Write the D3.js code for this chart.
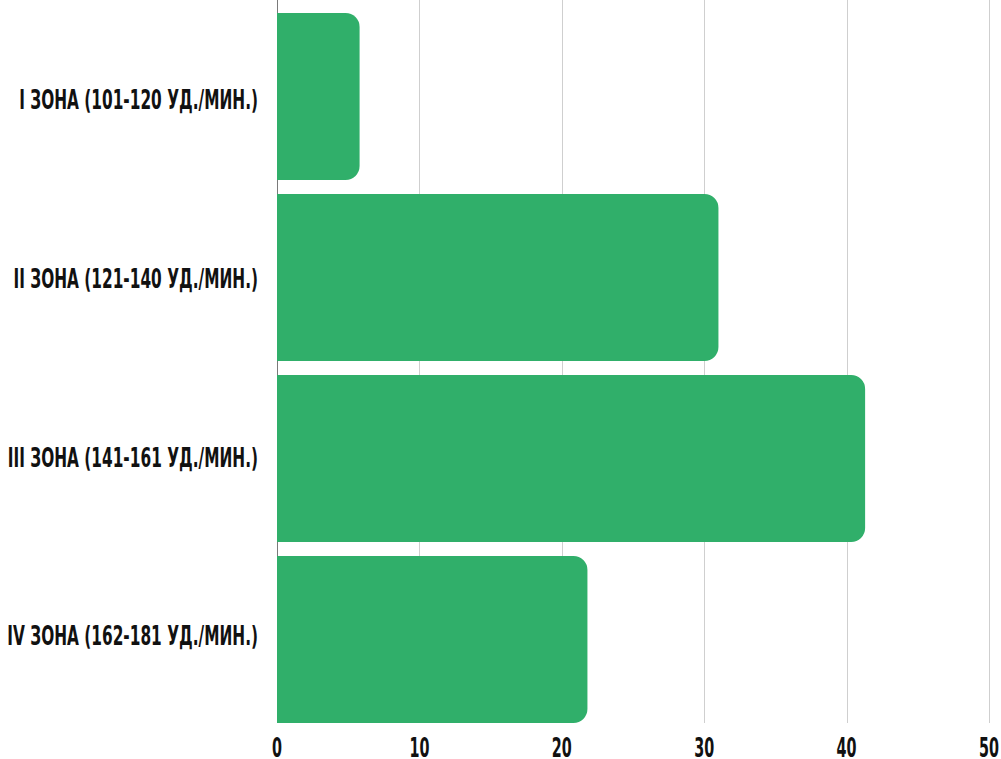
<!DOCTYPE html>
<html><head><meta charset="utf-8">
<script src="https://cdn.jsdelivr.net/npm/d3@7"></script>
<style>body{margin:0;background:#fff;overflow:hidden}</style>
</head><body>
<svg id="chart" width="1001" height="759"></svg>
<script>
const categories = [
  "I ЗОНА (101-120 УД./МИН.)",
  "II ЗОНА (121-140 УД./МИН.)",
  "III ЗОНА (141-161 УД./МИН.)",
  "IV ЗОНА (162-181 УД./МИН.)"
];
const values = [5.8, 31.0, 41.3, 21.8];
const tickValues = [0, 10, 20, 30, 40, 50];

const FONT = "'Liberation Sans Narrow','DejaVu Sans Condensed','Arial Narrow',sans-serif";
const svg = d3.select("#chart");

const x = d3.scaleLinear().domain([0, 50]).range([277, 989]);
const y = d3.scaleBand().domain(categories).range([13, 723]).paddingInner(0.0773).paddingOuter(0);
const yLabel = d3.scaleBand().domain(categories).range([10.7, 725.3]).padding(0);

// gridlines
svg.append("g").selectAll("line").data(tickValues.filter(d => d > 0)).join("line")
  .attr("x1", d => Math.round(x(d)) + 0.5).attr("x2", d => Math.round(x(d)) + 0.5)
  .attr("y1", 0).attr("y2", 723)
  .attr("stroke", "#cfcfcf").attr("stroke-width", 1);

// axis line
svg.append("line")
  .attr("x1", x(0) + 0.5).attr("x2", x(0) + 0.5).attr("y1", 0).attr("y2", 723)
  .attr("stroke", "#7a7a7a").attr("stroke-width", 1);

// bars with rounded right corners
const r = 14;
function barPath(x0, x1, y0, h) {
  const rr = Math.min(r, (x1 - x0), h / 2);
  return `M${x0},${y0}H${x1 - rr}A${rr},${rr} 0 0 1 ${x1},${y0 + rr}V${y0 + h - rr}A${rr},${rr} 0 0 1 ${x1 - rr},${y0 + h}H${x0}Z`;
}
svg.append("g").selectAll("path").data(categories).join("path")
  .attr("d", (c, i) => barPath(x(0), x(values[i]), y(c), y.bandwidth()))
  .attr("fill", "#30af6a");

// category labels
const labG = svg.append("g").selectAll("g").data(categories).join("g");
const labT = labG.append("text")
  .attr("text-anchor", "end")
  .attr("font-family", FONT).attr("font-weight", "bold").attr("font-size", 26)
  .attr("fill", "#111")
  .attr("dy", 9.3)
  .text(d => d);
const w0 = labT.nodes()[0].getComputedTextLength();
const kLab = 239 / w0;
labG.attr("transform", d => `translate(258,${yLabel(d) + yLabel.bandwidth() / 2}) scale(${kLab},1)`);

// x tick labels
const tG = svg.append("g").selectAll("g").data(tickValues).join("g");
const tT = tG.append("text")
  .attr("text-anchor", "middle")
  .attr("font-family", FONT).attr("font-weight", "bold").attr("font-size", 26)
  .attr("fill", "#111")
  .text(d => d);
const w10 = tT.nodes()[1].getComputedTextLength();
const kTick = 20 / w10;
tG.attr("transform", d => `translate(${x(d)},757) scale(${kTick},1)`);
</script>
</body></html>
